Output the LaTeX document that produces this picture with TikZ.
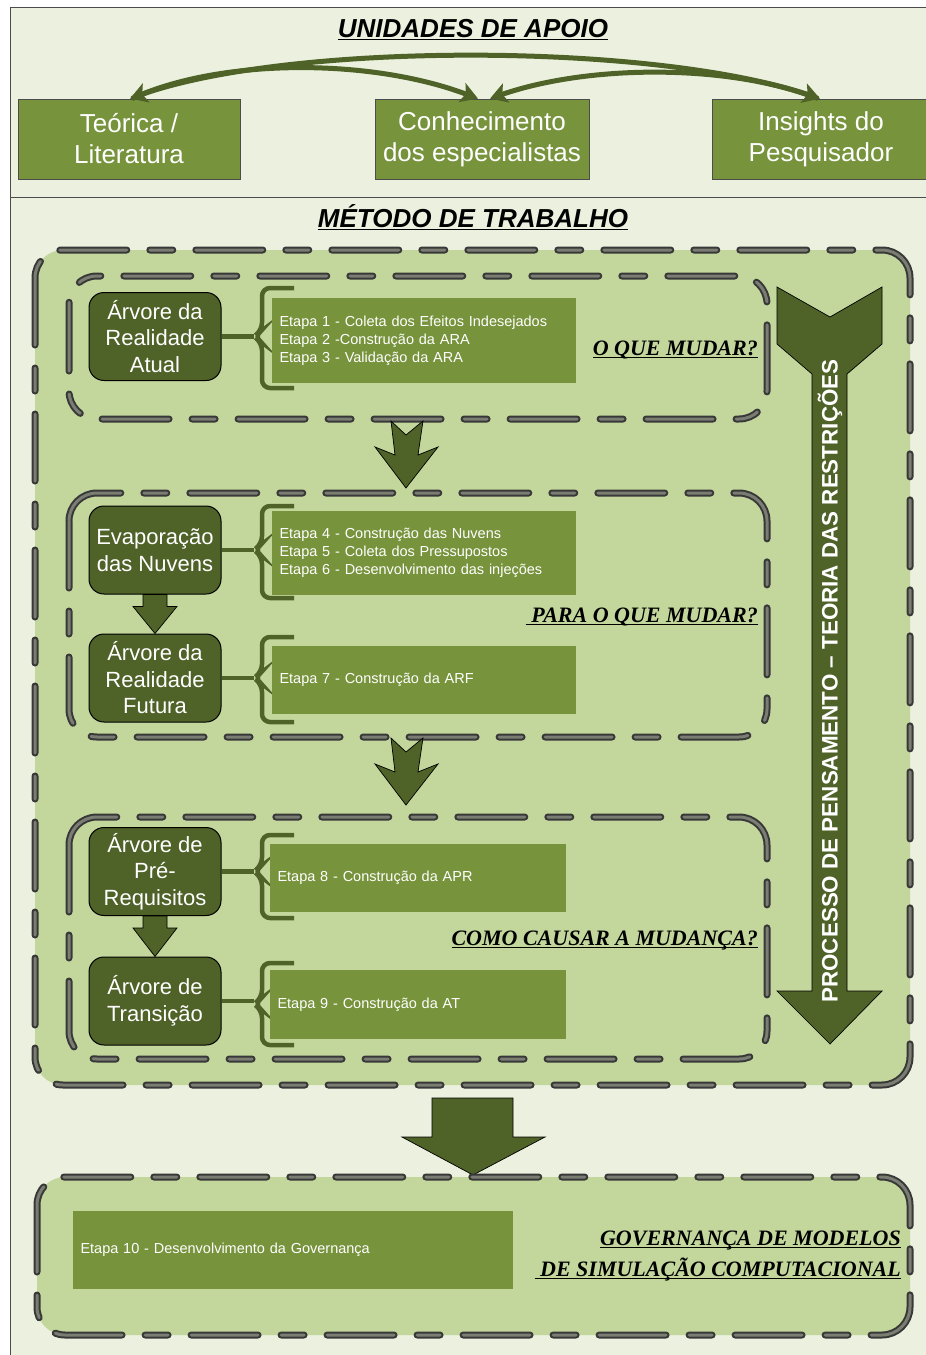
\documentclass[tikz,border=0pt]{standalone}
\usepackage{fontspec}
\setmainfont{Liberation Sans}
\newfontfamily\labelserif{Liberation Serif}
\usetikzlibrary{arrows.meta,calc}

\definecolor{paleolive}{HTML}{EBF1DE}
\definecolor{lightolive}{HTML}{C3D69B}
\definecolor{midolive}{HTML}{77933C}
\definecolor{darkolive}{HTML}{4F6228}
\definecolor{hatchdark}{HTML}{383838}
\definecolor{hatchmid}{HTML}{7A7D72}

% thick underline drawn under a piece of text
\newcommand\ulx[1]{\setbox0\hbox{#1}\rlap{\rule[-3.2pt]{\wd0}{1.7pt}}\box0}

\tikzset{
  panel/.style={fill=paleolive, draw=black!70, line width=1pt},
  supportbox/.style={rectangle, fill=midolive, draw=black!70, line width=0.8pt,
    text=white, align=center, font=\fontsize{26}{31}\selectfont, inner sep=0pt,
    minimum height=80pt},
  treebox/.style={rectangle, rounded corners=15pt, fill=darkolive, draw=black,
    line width=1pt, text=white, align=center, font=\fontsize{22}{26.5}\selectfont,
    minimum width=132pt, minimum height=88pt, inner sep=0pt},
  stepbox/.style={rectangle, fill=midolive, text=white, align=left,
    font=\fontsize{14.5}{18}\selectfont, inner xsep=7.5pt, inner ysep=0pt},
  heading/.style={font=\fontsize{26}{30}\selectfont\bfseries\itshape, anchor=base, inner sep=0pt},
  question/.style={font=\labelserif\fontsize{22}{26}\selectfont\bfseries\itshape,
    anchor=base east, inner sep=0pt},
  edgeouter/.style={draw=hatchdark, line width=7pt, line cap=round,
    rounded corners=28pt, dash pattern=on 67pt off 23pt on 23pt off 23pt},
  edgeinner/.style={draw=hatchmid, line width=3pt, line cap=round,
    rounded corners=28pt, dash pattern=on 67pt off 23pt on 23pt off 23pt},
  bracket/.style={draw=darkolive, line width=4.5pt, rounded corners=8pt},
  link/.style={draw=darkolive, line width=4.5pt},
  blockarrow/.style={fill=darkolive, draw=black, line width=0.7pt, line join=miter},
  flowarc/.style={draw=darkolive, line width=5pt},
  tip/.style={arrows={-Stealth[length=17pt,width=20pt,inset=4pt]}},
}

% dashed rounded frame of a group
\newcommand\groupframe[4]{%
  \draw[edgeouter] (#1,#2) rectangle (#3,#4);
  \draw[edgeinner] (#1,#2) rectangle (#3,#4);}

% curly bracket: top y, middle y, bottom y (fixed x)
\newcommand\stepbracket[3]{%
  \draw[bracket] (294,#1) -- (262,#1) -- (262,#2-6) -- (254,#2) -- (262,#2+6) -- (262,#3) -- (294,#3);}

% short block arrow from one tree box down to the next
\newcommand\stackarrow[2]{%
  \draw[blockarrow] ($(#1.south)+(-12,0)$) -- ($(#1.south)+(12,0)$) -- ($(#1.south)+(12,12)$)
    -- ($(#1.south)+(22,12)$) -- (#2.north) -- ($(#1.south)+(-22,12)$)
    -- ($(#1.south)+(-12,12)$) -- cycle;}

% notched arrow between two groups, tip at (#1,#2)
\newcommand\notcharrow[2]{%
  \draw[blockarrow] (#1-15,#2-67) -- (#1,#2-53) -- (#1+17,#2-67) -- (#1+12,#2-33)
    -- (#1+32,#2-41) -- (#1,#2) -- (#1-31,#2-41) -- (#1-11,#2-33) -- cycle;}

\begin{document}
\begin{tikzpicture}[x=1pt,y=-1pt]
\useasboundingbox (0,0) rectangle (926,1355);
\fill[white] (0,0) rectangle (926,1355);

% two panels
\path[panel] (10,7) rectangle (940,197);
\path[panel] (10,197) rectangle (940,1365);

% ---------- support units ----------
\node[heading] (tsup) at (473,37) {\ulx{UNIDADES DE APOIO}};

\node[supportbox, minimum width=222pt] (teo) at (129,139) {Teórica /\\Literatura};
\node[supportbox, minimum width=214pt] (conh) at (482,139) {Conhecimento\\dos especialistas};
\node[supportbox, minimum width=218pt] (ins) at (821,139) {Insights do\\Pesquisador};

\draw[flowarc, arrows={Stealth[length=17pt,width=20pt,inset=4pt]-Stealth[length=17pt,width=20pt,inset=4pt]}]
  ($(teo.north)+(1,0)$) .. controls (290,42) and (650,42) .. ($(ins.north)+(-1,0)$);
\draw[flowarc, tip]
  ($(teo.north)+(3,0)$) .. controls (220,58) and (370,58) .. ($(conh.north)+(-4,0)$);
\draw[flowarc, arrows={Stealth[length=17pt,width=20pt,inset=4pt]-}]
  ($(conh.north)+(8,0)$) .. controls (590,64) and (730,64) .. ($(ins.north)+(-3,0)$);

% ---------- working method ----------
\node[heading] (tmet) at (473,227) {\ulx{MÉTODO DE TRABALHO}};

\fill[lightolive, rounded corners=28pt] (35,250) rectangle (910,1085);
\groupframe{35}{250}{910}{1085}
\groupframe{69}{276}{767}{419}
\groupframe{69}{493}{767}{737}
\groupframe{69}{817}{767}{1059}

% group 1
\node[treebox] (ara) at (155,336.5) {Árvore da\\Realidade\\Atual};
\stepbracket{288}{336.5}{388}
\coordinate (c1) at (254,336.5);
\draw[link] (ara.east) -- (c1);
\node[stepbox, minimum width=304pt, minimum height=85pt, text width=289pt] (s1) at (424,340.5)
  {Etapa 1 - Coleta dos Efeitos Indesejados\\Etapa 2 -Construção da ARA\\Etapa 3 - Validação da ARA};
\node[question] (q1) at (758,355) {\ulx{O QUE MUDAR?}};

\notcharrow{406}{488}

% group 2
\node[treebox] (evap) at (155,550) {Evaporação\\das Nuvens};
\stepbracket{506}{550}{598}
\coordinate (c2) at (254,550);
\draw[link] (evap.east) -- (c2);
\node[stepbox, minimum width=304pt, minimum height=84pt, text width=289pt] (s2) at (424,553)
  {Etapa 4 - Construção das Nuvens\\Etapa 5 - Coleta dos Pressupostos\\Etapa 6 - Desenvolvimento das injeções};
\node[question] (q2) at (758,622) {\ulx{ PARA O QUE MUDAR?}};

\node[treebox] (arf) at (155,678) {Árvore da\\Realidade\\Futura};
\stackarrow{evap}{arf}
\stepbracket{637}{678}{722}
\coordinate (c3) at (254,678);
\draw[link] (arf.east) -- (c3);
\node[stepbox, minimum width=304pt, minimum height=68pt, text width=289pt] (s3) at (424,680)
  {Etapa 7 - Construção da ARF};

\notcharrow{406}{805}

% group 3
\node[treebox] (apr) at (155,871.5) {Árvore de\\Pré-\\Requisitos};
\stepbracket{835}{871.5}{918}
\coordinate (c4) at (254,871.5);
\draw[link] (apr.east) -- (c4);
\node[stepbox, minimum width=296pt, minimum height=68pt, text width=281pt] (s4) at (418,878)
  {Etapa 8 - Construção da APR};
\node[question] (q3) at (758,945) {\ulx{COMO CAUSAR A MUDANÇA?}};

\node[treebox] (at) at (155,1001) {Árvore de\\Transição};
\stackarrow{apr}{at}
\stepbracket{963}{1004}{1045}
\coordinate (c5) at (254,1001);
\draw[link] (at.east) -- (c5);
\node[stepbox, minimum width=296pt, minimum height=69pt, text width=281pt] (s5) at (418,1004.5)
  {Etapa 9 - Construção da AT};

% thinking process arrow
\draw[blockarrow] (777,287) -- (830,317) -- (882,287) -- (882,344) -- (847,374) -- (847,991)
  -- (882,991) -- (830,1044) -- (777,991) -- (812,991) -- (812,374) -- (777,344) -- cycle;
\node[rotate=90, text=white, font=\fontsize{22.4}{26}\selectfont\bfseries] (tp) at (830,681)
  {PROCESSO DE PENSAMENTO – TEORIA DAS RESTRIÇÕES};

% ---------- governance ----------
\draw[blockarrow] (432,1098) -- (513,1098) -- (513,1137) -- (545,1137) -- (473,1175)
  -- (402,1137) -- (432,1137) -- cycle;

\fill[lightolive, rounded corners=28pt] (37,1177) rectangle (910,1335);
\groupframe{37}{1177}{910}{1335}
\node[stepbox, minimum width=440pt, minimum height=78pt, text width=425pt] (s6) at (293,1250)
  {Etapa 10 - Desenvolvimento da Governança};
\node[question] (q4) at (901,1245) {\ulx{GOVERNANÇA DE MODELOS}};
\node[question] (q5) at (901,1276) {\ulx{ DE SIMULAÇÃO COMPUTACIONAL}};
\end{tikzpicture}
\end{document}
